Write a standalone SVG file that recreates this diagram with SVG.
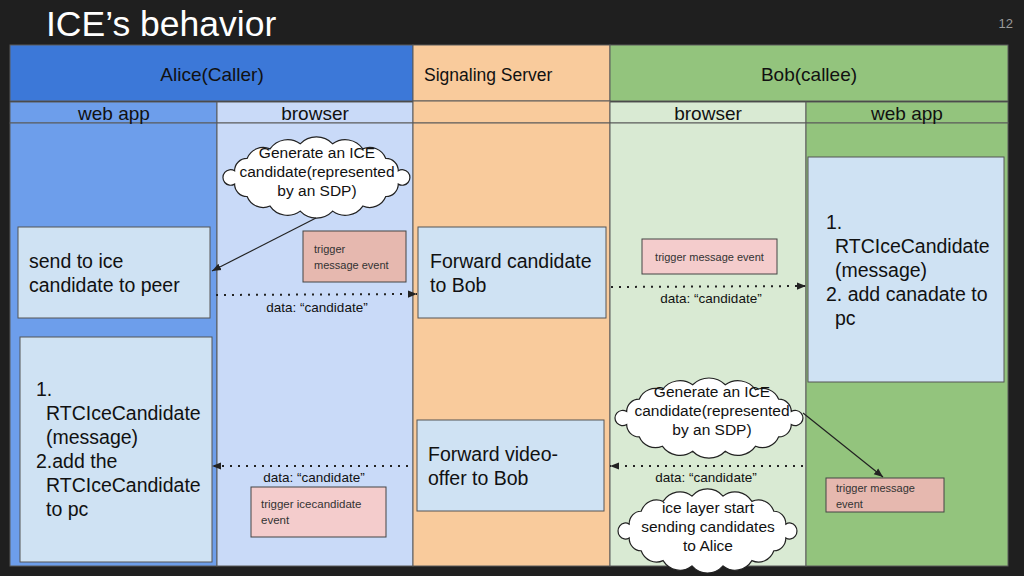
<svg xmlns="http://www.w3.org/2000/svg" xmlns:xlink="http://www.w3.org/1999/xlink" width="1024" height="576" viewBox="0 0 1024 576">
<style>
text{font-family:"Liberation Sans",Arial,sans-serif;fill:#111}
.hdr{font-size:19px}
.body{font-size:19.5px}
.cl{font-size:15.5px;text-anchor:middle}
.sm{font-size:11.5px;fill:#333}
.lbl{font-size:13.5px;text-anchor:middle}
.cell{stroke:#5a5a5a;stroke-width:1}
.box{fill:#cfe2f3;stroke:#555;stroke-width:1}
.trig{fill:#f4cccc;stroke:#444;stroke-width:1}
.trig2{fill:#e6b8af;stroke:#444;stroke-width:1}
.dot{fill:none;stroke:#222;stroke-width:2;stroke-dasharray:2 6}
.ln{fill:none;stroke:#222;stroke-width:1.2}
</style>
<defs>
<marker id="ah" viewBox="0 0 10 10" refX="10" refY="5" markerWidth="9" markerHeight="9" markerUnits="userSpaceOnUse" orient="auto">
<path d="M0,1 L10,5 L0,9 z" fill="#222"/>
</marker>
<path id="cloud" fill="#fff" stroke="#222" stroke-width="1.2" vector-effect="non-scaling-stroke" d="M15.4,46 A7,7 0 1 1 15.4,34 A11.2,11.2 0 0 1 26.8,22.8 A15.8,15.8 0 0 1 47.7,14.2 A19.5,19.5 0 0 1 75.2,9.6 A20.7,20.7 0 0 1 104.8,9.6 A19.5,19.5 0 0 1 132.3,14.2 A15.8,15.8 0 0 1 153.2,22.8 A11.2,11.2 0 0 1 164.6,34 A7,7 0 1 1 164.6,46 A11.2,11.2 0 0 1 153.2,57.2 A15.8,15.8 0 0 1 132.3,65.8 A19.5,19.5 0 0 1 104.8,70.4 A20.7,20.7 0 0 1 75.2,70.4 A19.5,19.5 0 0 1 47.7,65.8 A15.8,15.8 0 0 1 26.8,57.2 A11.2,11.2 0 0 1 15.4,46 Z"/>
</defs>
<rect x="0" y="0" width="1024" height="576" fill="#1f1f1f"/>
<text x="46" y="36" style="font-size:35.5px;fill:#fff">ICE’s behavior</text>
<text x="1013" y="28" style="font-size:13px;fill:#9a9a9a;text-anchor:end">12</text>

<g id="lanes">
<rect class="cell" x="10" y="45" width="403" height="56" fill="#3c78d8"/>
<rect class="cell" x="413" y="45" width="197" height="56" fill="#f9cb9c"/>
<rect class="cell" x="610" y="45" width="398" height="56" fill="#93c47d"/>
<rect class="cell" x="10" y="102" width="207" height="21" fill="#6d9eeb"/>
<rect class="cell" x="217" y="102" width="196" height="21" fill="#c9daf8"/>
<rect class="cell" x="413" y="101" width="197" height="22" fill="#f9cb9c"/>
<rect class="cell" x="610" y="102" width="196" height="21" fill="#d9ead3"/>
<rect class="cell" x="806" y="102" width="202" height="21" fill="#93c47d"/>
<rect class="cell" x="10" y="123" width="207" height="443" fill="#6d9eeb"/>
<rect class="cell" x="217" y="123" width="196" height="443" fill="#c9daf8"/>
<rect class="cell" x="413" y="123" width="197" height="443" fill="#f9cb9c"/>
<rect class="cell" x="610" y="123" width="196" height="443" fill="#d9ead3"/>
<rect class="cell" x="806" y="123" width="202" height="443" fill="#93c47d"/>
<text class="hdr" x="212" y="81" text-anchor="middle">Alice(Caller)</text>
<text class="hdr" x="424" y="81" style="font-size:17.5px">Signaling Server</text>
<text class="hdr" x="809" y="81" text-anchor="middle">Bob(callee)</text>
<text class="hdr" x="114" y="120" text-anchor="middle">web app</text>
<text class="hdr" x="315" y="120" text-anchor="middle">browser</text>
<text class="hdr" x="708" y="120" text-anchor="middle">browser</text>
<text class="hdr" x="907" y="120" text-anchor="middle">web app</text>
</g>

<g id="send-ice">
<rect class="box" x="18" y="227" width="192" height="91"/>
<text class="body" x="29" y="268">send to ice</text>
<text class="body" x="29" y="292">candidate to peer</text>
</g>

<g id="alice-add">
<rect class="box" x="20" y="337" width="192" height="225"/>
<text class="body" x="36" y="396">1.</text>
<text class="body" x="46" y="420">RTCIceCandidate</text>
<text class="body" x="46" y="444">(message)</text>
<text class="body" x="36" y="468">2.add the</text>
<text class="body" x="46" y="492">RTCIceCandidate</text>
<text class="body" x="46" y="516">to pc</text>
</g>

<g id="cloud-alice">
<use xlink:href="#cloud" href="#cloud" transform="translate(217.7,133.2) scale(1.097,1.107)"/>
<text class="cl" x="317" y="158">Generate an ICE</text>
<text class="cl" x="317" y="177">candidate(represented</text>
<text class="cl" x="317" y="196">by an SDP)</text>
</g>

<g id="trigger-alice-msg">
<rect class="trig2" x="303" y="231" width="103" height="51"/>
<text class="sm" x="314" y="253" style="font-size:11px">trigger</text>
<text class="sm" x="314" y="269" style="font-size:11px">message event</text>
</g>

<g id="trigger-alice-ice">
<rect class="trig" x="251" y="487" width="135" height="50"/>
<text class="sm" x="261" y="508">trigger icecandidate</text>
<text class="sm" x="261" y="524">event</text>
</g>

<g id="forward-candidate">
<rect class="box" x="418" y="227" width="188" height="91"/>
<text class="body" x="430" y="268">Forward candidate</text>
<text class="body" x="430" y="292">to Bob</text>
</g>

<g id="forward-offer">
<rect class="box" x="417" y="420" width="187" height="91"/>
<text class="body" x="428" y="461">Forward video-</text>
<text class="body" x="428" y="485">offer to Bob</text>
</g>

<g id="trigger-bob-msg">
<rect class="trig" x="642" y="239" width="135" height="35"/>
<text class="sm" x="709.5" y="261" text-anchor="middle" style="font-size:11px">trigger message event</text>
</g>

<g id="bob-add">
<rect class="box" x="808" y="157" width="196" height="225"/>
<text class="body" x="826" y="229">1.</text>
<text class="body" x="835" y="253">RTCIceCandidate</text>
<text class="body" x="835" y="277">(message)</text>
<text class="body" x="826" y="301">2. add canadate to</text>
<text class="body" x="835" y="325">pc</text>
</g>

<g id="cloud-bob">
<use xlink:href="#cloud" href="#cloud" transform="translate(609.7,374.3) scale(1.103,1.093)"/>
<text class="cl" x="712" y="397">Generate an ICE</text>
<text class="cl" x="712" y="416">candidate(represented</text>
<text class="cl" x="712" y="435">by an SDP)</text>
</g>

<g id="cloud-send">
<use xlink:href="#cloud" href="#cloud" transform="translate(613,485.1) scale(1.05,1.148)"/>
<text class="cl" x="708" y="513">ice layer start</text>
<text class="cl" x="708" y="532">sending candidates</text>
<text class="cl" x="708" y="551">to Alice</text>
</g>

<g id="trigger-bob-msg2">
<rect class="trig2" x="826" y="478" width="118" height="34"/>
<text class="sm" x="836" y="492" style="font-size:11px">trigger message</text>
<text class="sm" x="836" y="508" style="font-size:11px">event</text>
</g>

<g id="connectors">
<line class="ln" x1="316" y1="218" x2="212" y2="271" marker-end="url(#ah)"/>
<line class="ln" x1="803" y1="413" x2="883" y2="477" marker-end="url(#ah)"/>
<line class="dot" x1="216" y1="295" x2="417" y2="294" marker-end="url(#ah)"/>
<line class="dot" x1="611" y1="287" x2="806" y2="286" marker-end="url(#ah)"/>
<line class="dot" x1="408" y1="466" x2="212" y2="466" marker-end="url(#ah)"/>
<line class="dot" x1="803" y1="466" x2="610" y2="466" marker-end="url(#ah)"/>
<text class="lbl" x="317" y="312">data: “candidate”</text>
<text class="lbl" x="711" y="303">data: “candidate”</text>
<text class="lbl" x="314" y="482">data: “candidate”</text>
<text class="lbl" x="706" y="482">data: “candidate”</text>
</g>
</svg>
